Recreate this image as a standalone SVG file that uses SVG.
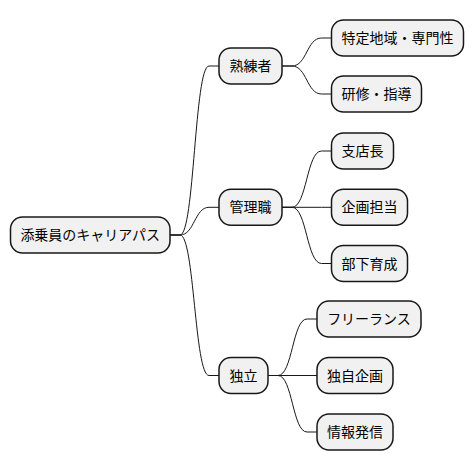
<svg xmlns="http://www.w3.org/2000/svg" width="474" height="471" viewBox="0 0 474 471">
<style>
.n rect{fill:#F1F1F1;stroke:#181818;stroke-width:1.5}
.n text{font-family:"Noto Sans CJK JP","Noto Sans CJK SC",sans-serif;font-size:14px;fill:#000000;text-anchor:middle}
.c path{fill:none;stroke:#181818;stroke-width:1}
</style>
<rect width="474" height="471" fill="#FFFFFF"/>
<g class="c" id="connectors">
<path d="M170,235 L180,235 C194.5,235 194.5,66 209,66 L219,66"/>
<path d="M170,235 L180,235 C194.5,235 194.5,207.3 209,207.3 L219,207.3"/>
<path d="M170,235 L180,235 C194.5,235 194.5,375.5 209,375.5 L219,375.5"/>
<path d="M282,66 L292,66 C306.75,66 306.75,38 321.5,38 L331.5,38"/>
<path d="M282,66 L292,66 C306.75,66 306.75,94 321.5,94 L331.5,94"/>
<path d="M282,207.3 L292,207.3 C306.75,207.3 306.75,151 321.5,151 L331.5,151"/>
<path d="M282,207.3 L292,207.3 L321.5,207.3 L331.5,207.3"/>
<path d="M282,207.3 L292,207.3 C306.75,207.3 306.75,263.5 321.5,263.5 L331.5,263.5"/>
<path d="M268,375.5 L278,375.5 C292.5,375.5 292.5,319 307,319 L317,319"/>
<path d="M268,375.5 L278,375.5 L307,375.5 L317,375.5"/>
<path d="M268,375.5 L278,375.5 C292.5,375.5 292.5,432 307,432 L317,432"/>
</g>
<g class="n" id="root"><rect x="10.5" y="217" width="159.5" height="36" rx="12"/><text x="90.25" y="240">添乗員のキャリアパス</text></g>
<g class="n" id="jukurensha"><rect x="219" y="48" width="63" height="36" rx="12"/><text x="250.5" y="71">熟練者</text></g>
<g class="n" id="kanrishoku"><rect x="219" y="189.3" width="63" height="36" rx="12"/><text x="250.5" y="212.3">管理職</text></g>
<g class="n" id="dokuritsu"><rect x="219" y="357.5" width="49" height="36" rx="12"/><text x="243.5" y="380.5">独立</text></g>
<g class="n" id="tokutei"><rect x="331.5" y="20" width="132" height="36" rx="12"/><text x="397.5" y="43">特定地域・専門性</text></g>
<g class="n" id="kenshu"><rect x="331.5" y="76" width="90" height="36" rx="12"/><text x="376.5" y="99">研修・指導</text></g>
<g class="n" id="shitencho"><rect x="331.5" y="133" width="62" height="36" rx="12"/><text x="362.5" y="156">支店長</text></g>
<g class="n" id="kikaku"><rect x="331.5" y="189.3" width="76" height="36" rx="12"/><text x="369.5" y="212.3">企画担当</text></g>
<g class="n" id="buka"><rect x="331.5" y="245.5" width="76" height="36" rx="12"/><text x="369.5" y="268.5">部下育成</text></g>
<g class="n" id="freelance"><rect x="317" y="301" width="104" height="36" rx="12"/><text x="369" y="324">フリーランス</text></g>
<g class="n" id="dokuji"><rect x="317" y="357.5" width="76" height="36" rx="12"/><text x="355" y="380.5">独自企画</text></g>
<g class="n" id="joho"><rect x="317" y="414" width="76" height="36" rx="12"/><text x="355" y="437">情報発信</text></g>
</svg>
